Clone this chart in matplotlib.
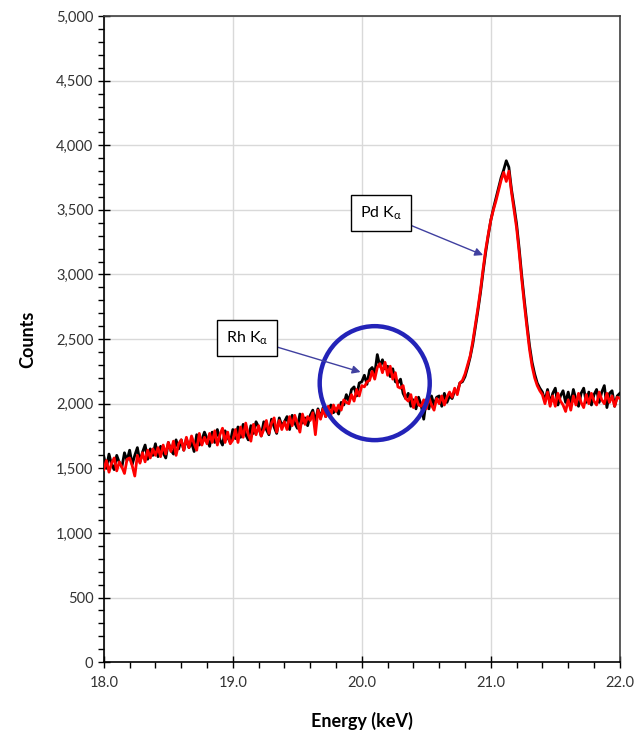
import numpy as np
import matplotlib
matplotlib.use("Agg")
import matplotlib.pyplot as plt
from matplotlib.patches import Ellipse
from matplotlib.ticker import MultipleLocator, FuncFormatter

plt.rcParams['font.family'] = ['Lato', 'DejaVu Sans']

energy = np.round(np.linspace(18.0, 22.0, 201), 2)

counts_black = [
    1590, 1500, 1610, 1530, 1490, 1600, 1545, 1510, 1620, 1560,
    1640, 1530, 1600, 1660, 1550, 1625, 1680, 1570, 1650, 1600,
    1690, 1590, 1670, 1620, 1580, 1700, 1640, 1610, 1720, 1650,
    1720, 1640, 1730, 1660, 1700, 1630, 1760, 1680, 1720, 1780,
    1730, 1670, 1780, 1700, 1800, 1720, 1680, 1790, 1740, 1700,
    1800, 1730, 1820, 1740, 1840, 1760, 1720, 1830, 1770, 1860,
    1820, 1750, 1860, 1800, 1760, 1880, 1820, 1770, 1890, 1830,
    1860, 1900, 1800, 1910, 1850, 1810, 1920, 1850, 1890, 1830,
    1910, 1950, 1860, 1960, 1890, 1970, 1900, 1950, 1990, 1930,
    1960, 1920, 2010, 1990, 2070, 2020, 2110, 2130, 2060, 2160,
    2170, 2220, 2150, 2260, 2280, 2230, 2380, 2290, 2340, 2270,
    2290, 2210, 2270, 2170, 2160, 2190, 2080, 2040, 2080, 1980,
    2030, 1960, 2050, 1990, 1880, 2030, 1960, 2060, 1990, 2050,
    2060, 1980, 2080, 2010, 2060, 2040, 2100, 2090, 2160, 2170,
    2210, 2280, 2360, 2460, 2590, 2720, 2860, 3020, 3170, 3300,
    3420, 3510, 3590, 3670, 3750, 3810, 3880, 3830, 3660, 3530,
    3390, 3200, 2990, 2800, 2620, 2450, 2320, 2230, 2160, 2120,
    2090, 2020, 2110, 2000, 2080, 2120, 1990, 2060, 2100, 2010,
    2090, 2000, 2110, 2030, 1980, 2080, 2120, 2010, 2090, 1990,
    2070, 2110, 2010, 2090, 2140, 1970, 2080, 2100, 1980, 2060, 2080,
]

counts_red = [
    1490, 1560, 1470, 1540, 1580, 1480, 1550, 1510, 1460, 1570,
    1580, 1520, 1440, 1600, 1540, 1620, 1550, 1640, 1580, 1650,
    1600, 1660, 1590, 1680, 1610, 1700, 1630, 1710, 1600, 1690,
    1720, 1640, 1740, 1660, 1750, 1690, 1640, 1770, 1680, 1740,
    1690, 1770, 1700, 1790, 1680, 1760, 1810, 1700, 1780, 1690,
    1720, 1800, 1700, 1820, 1740, 1850, 1760, 1710, 1840, 1760,
    1830, 1750, 1800, 1870, 1770, 1850, 1890, 1780, 1870, 1800,
    1860, 1800, 1900, 1830, 1910, 1850, 1780, 1920, 1840, 1900,
    1870, 1930, 1760, 1950, 1880, 1960, 1900, 1980, 1910, 1990,
    1940, 1990, 1950, 2030, 2010, 2000, 2070, 2020, 2110, 2060,
    2140, 2130, 2170, 2180, 2250, 2190, 2280, 2310, 2240, 2320,
    2220, 2290, 2190, 2240, 2130, 2120, 2140, 2040, 2020, 2070,
    1970, 2050, 1990, 1980, 2030, 1960, 2050, 1990, 1950, 2040,
    2000, 2060, 1990, 2050, 2090, 2050, 2120, 2070, 2160, 2180,
    2230, 2300, 2370, 2480, 2610, 2740, 2880, 3040, 3190, 3310,
    3420, 3500, 3570, 3650, 3730, 3790, 3720, 3800, 3640, 3500,
    3360, 3170, 2960, 2770, 2590, 2420, 2290, 2200, 2140, 2100,
    2070, 2000, 2090, 1980, 2060, 1980, 2080, 2020, 1990, 1940,
    2030, 1950, 2060, 1990, 2080, 2010, 1970, 2070, 2000, 2080,
    2020, 1990, 2090, 2030, 2000, 2080, 2010, 2060, 1980, 2050, 2040,
]

x_ticks = [18.0, 19.0, 20.0, 21.0, 22.0]
y_ticks = [0, 500, 1000, 1500, 2000, 2500, 3000, 3500, 4000, 4500, 5000]

fig = plt.figure(figsize=(6.37, 7.30), dpi=100)
ax = fig.add_axes([0.163, 0.093, 0.810, 0.885])

ax.plot(energy, counts_black, color='black', lw=2.0, zorder=3)
ax.plot(energy, counts_red, color='#ff0000', lw=2.0, zorder=4)

ax.set_xlim(18, 22)
ax.set_ylim(0, 5000)
ax.set_xticks(x_ticks)
ax.set_yticks(y_ticks)
ax.xaxis.set_major_formatter(FuncFormatter(lambda v, p: f"{v:.1f}"))
ax.yaxis.set_major_formatter(FuncFormatter(lambda v, p: f"{int(v):,}"))
ax.xaxis.set_minor_locator(MultipleLocator(0.2))
ax.yaxis.set_minor_locator(MultipleLocator(100))
ax.tick_params(which='major', direction='inout', length=8, width=1, labelsize=10.5, colors='black')
ax.tick_params(which='minor', direction='out', length=4, width=1)
ax.tick_params(axis='y', labelcolor='#333333')
ax.tick_params(axis='x', labelcolor='#333333', pad=6)
ax.grid(True, which='major', color='#d9d9d9', lw=1, zorder=0)
ax.set_axisbelow(True)
for s in ['left', 'bottom']:
    ax.spines[s].set_color('black')
    ax.spines[s].set_linewidth(1.2)
for s in ['top', 'right']:
    ax.spines[s].set_color('#404040')
    ax.spines[s].set_linewidth(1.2)

ax.set_xlabel('Energy (keV)', fontsize=13, fontweight='bold', labelpad=16)
ax.set_ylabel('Counts', fontsize=13, fontweight='bold', labelpad=14)

circ = Ellipse((20.10, 2159), width=0.853, height=882, fill=False,
               edgecolor='#2323b8', lw=3.2, zorder=5)
ax.add_patch(circ)

box = dict(boxstyle='square,pad=0.55', fc='white', ec='black', lw=1)
arrow = dict(arrowstyle='-|>', color='#4040a0', lw=1, mutation_scale=12, shrinkA=0, shrinkB=0)
ax.annotate(r'Pd K$_\mathregular{α}$', xy=(20.94, 3150), xytext=(20.15, 3475),
            fontsize=11.5, ha='center', va='center', bbox=box, arrowprops=arrow, zorder=6)
ax.annotate(r'Rh K$_\mathregular{α}$', xy=(19.99, 2245), xytext=(19.11, 2508),
            fontsize=11.5, ha='center', va='center', bbox=box, arrowprops=arrow, zorder=6)

fig.savefig('out.png', dpi=100)
